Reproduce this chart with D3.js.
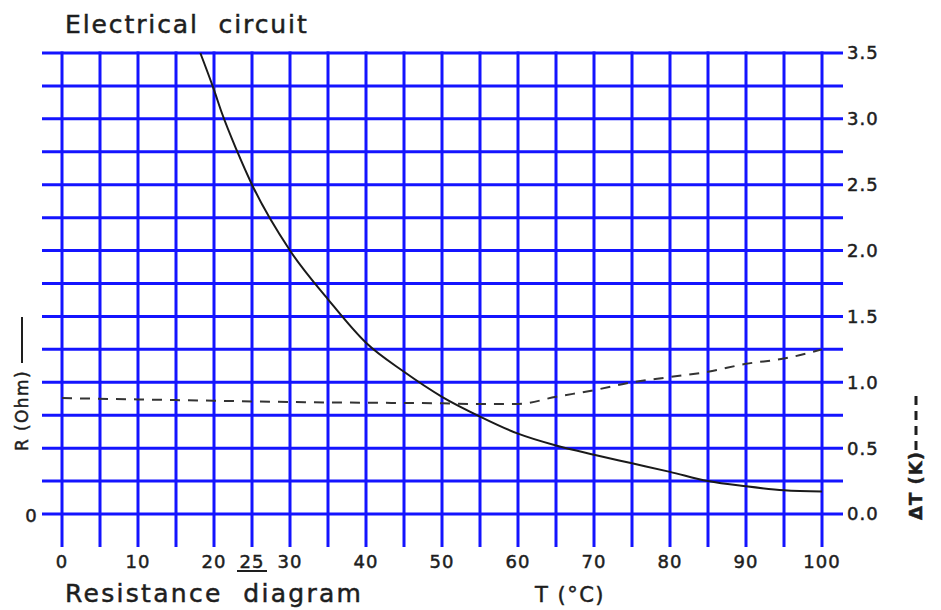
<!DOCTYPE html>
<html>
<head>
<meta charset="utf-8">
<script src="https://cdn.jsdelivr.net/npm/d3@7"></script>
<style>
  html, body { margin: 0; padding: 0; background: #ffffff; }
  svg { display: block; }
  text { font-family: "DejaVu Sans", sans-serif; fill: #1e1e1e; stroke: #1e1e1e; stroke-width: 0.5px; }
</style>
</head>
<body>
<svg id="chart" width="941" height="610"></svg>
<script>
// ---- data ----
const titleText = "Electrical  circuit";
const subtitleText = "Resistance  diagram";
const xAxisLabel = "T (°C)";
const leftAxisLabel = "R (Ohm)";
const rightAxisLabel = "ΔT (K)";

const xTickLabels = [0, 10, 20, 25, 30, 40, 50, 60, 70, 80, 90, 100];
const xUnderlined = [25];
const yTickLabels = [0.0, 0.5, 1.0, 1.5, 2.0, 2.5, 3.0, 3.5];
const leftTickLabels = [0];

// Resistance curve (solid)
const rT = [18.2, 20, 21, 23, 25, 30, 35, 40, 45, 50, 55, 60, 65, 70, 75, 80, 85, 90, 95, 100];
const rV = [3.5, 3.22, 3.05, 2.76, 2.5, 2.0, 1.63, 1.3, 1.08, 0.89, 0.74, 0.61, 0.52, 0.45, 0.385, 0.32, 0.25, 0.21, 0.18, 0.17];

// Temperature difference curve (dashed)
const dT = [0, 10, 20, 30, 40, 50, 55, 60, 65, 70, 75, 80, 85, 90, 95, 100];
const dV = [0.88, 0.87, 0.86, 0.85, 0.845, 0.84, 0.835, 0.835, 0.89, 0.94, 1.0, 1.04, 1.08, 1.14, 1.18, 1.25];

// ---- drawing ----
const svg = d3.select("#chart");
const x = d3.scaleLinear().domain([0, 100]).range([62, 822]);
const y = d3.scaleLinear().domain([0, 3.5]).range([514, 53]);

const gridBlue = "#1414ff";

// vertical grid lines (every 5)
const vLines = d3.range(0, 100.001, 5);
svg.append("g").selectAll("line").data(vLines).join("line")
  .attr("x1", d => x(d)).attr("x2", d => x(d))
  .attr("y1", y(3.5) - 1.5).attr("y2", y(0) + 33)
  .attr("stroke", gridBlue).attr("stroke-width", 3);

// horizontal grid lines (every 0.25)
const hLines = d3.range(0, 3.5001, 0.25);
svg.append("g").selectAll("line").data(hLines).join("line")
  .attr("x1", x(0) - 20).attr("x2", x(100) + 21)
  .attr("y1", d => y(d)).attr("y2", d => y(d))
  .attr("stroke", gridBlue).attr("stroke-width", 3);

// curves
const rData = rT.map((t, i) => [t, rV[i]]);
const dData = dT.map((t, i) => [t, dV[i]]);
const line = d3.line().x(d => x(d[0])).y(d => y(d[1])).curve(d3.curveMonotoneX);

svg.append("path").datum(dData)
  .attr("d", line).attr("fill", "none")
  .attr("stroke", "#333").attr("stroke-width", 2)
  .attr("stroke-dasharray", "10,8");

svg.append("path").datum(rData)
  .attr("d", line).attr("fill", "none")
  .attr("stroke", "#1a1a1a").attr("stroke-width", 2);

// right axis tick labels
svg.append("g").selectAll("text").data(yTickLabels).join("text")
  .attr("x", 847).attr("y", d => y(d))
  .attr("dy", "0.36em")
  .attr("font-size", 18).attr("letter-spacing", 1)
  .text(d => d3.format(".1f")(d));

// left axis tick label
svg.append("g").selectAll("text").data(leftTickLabels).join("text")
  .attr("x", 31).attr("y", d => y(d) + 2)
  .attr("dy", "0.36em").attr("text-anchor", "middle")
  .attr("font-size", 18)
  .text(d => d);

// bottom tick labels
svg.append("g").selectAll("text").data(xTickLabels).join("text")
  .attr("x", d => x(d)).attr("y", 568)
  .attr("text-anchor", "middle")
  .attr("font-size", 18).attr("letter-spacing", 1)
  .text(d => d);

// underline for 25
svg.append("g").selectAll("line").data(xUnderlined).join("line")
  .attr("x1", d => x(d) - 15).attr("x2", d => x(d) + 15)
  .attr("y1", 571).attr("y2", 571)
  .attr("stroke", "#1e1e1e").attr("stroke-width", 2);

// title
svg.append("text").attr("x", 65).attr("y", 33)
  .attr("font-size", 25).attr("letter-spacing", 1.9)
  .attr("xml:space", "preserve")
  .text(titleText);

// subtitle
svg.append("text").attr("x", 65).attr("y", 602)
  .attr("font-size", 25).attr("letter-spacing", 2.3)
  .attr("xml:space", "preserve")
  .text(subtitleText);

// x axis label
svg.append("text").attr("x", 535).attr("y", 602)
  .attr("font-size", 21).attr("letter-spacing", 1.5)
  .attr("xml:space", "preserve")
  .text(xAxisLabel);

// left axis label (rotated) + solid line sample
const lg = svg.append("g").attr("transform", "translate(28,451) rotate(-90)");
lg.append("text").attr("x", 0).attr("y", 0)
  .attr("font-size", 17).attr("letter-spacing", 1.4)
  .text(leftAxisLabel);
lg.append("line").attr("x1", 88).attr("x2", 134).attr("y1", -6).attr("y2", -6)
  .attr("stroke", "#1e1e1e").attr("stroke-width", 2);

// right axis label (rotated) + dashed line sample
const rg = svg.append("g").attr("transform", "translate(922,520) rotate(-90)");
rg.append("text").attr("x", 0).attr("y", 0)
  .attr("font-size", 18).attr("font-weight", "bold").attr("letter-spacing", 1)
  .attr("xml:space", "preserve")
  .text(rightAxisLabel);
rg.append("line").attr("x1", 70).attr("x2", 128).attr("y1", -6).attr("y2", -6)
  .attr("stroke", "#1e1e1e").attr("stroke-width", 3)
  .attr("stroke-dasharray", "9,6");
</script>
</body>
</html>
